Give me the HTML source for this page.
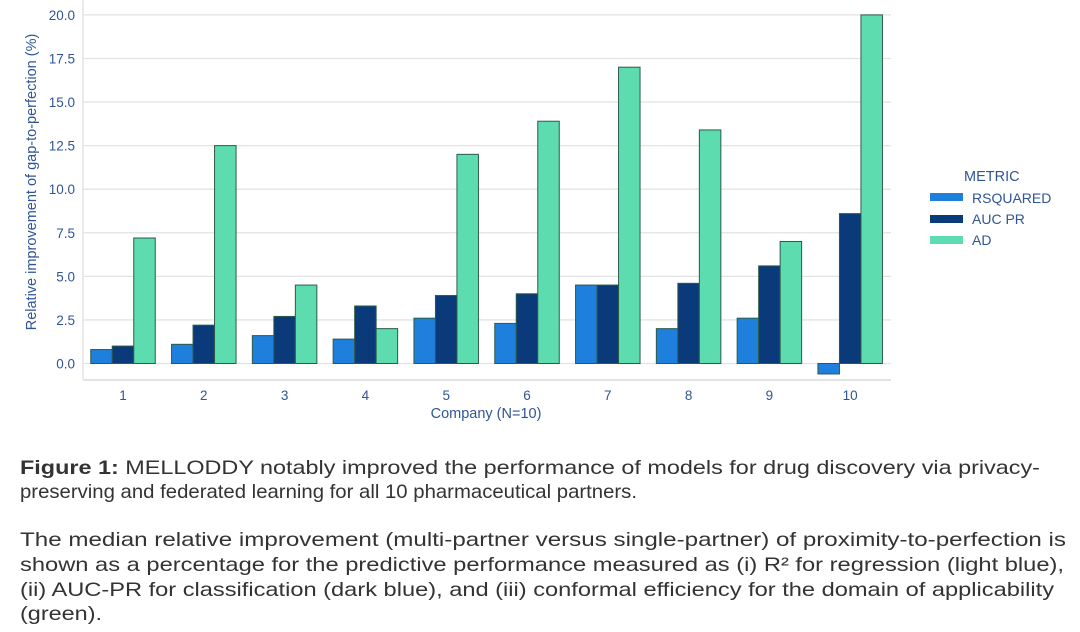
<!DOCTYPE html>
<html><head><meta charset="utf-8"><style>
body{margin:0;background:#fff;}
svg{display:block;font-family:"Liberation Sans",Arial,sans-serif;}
</style></head><body>
<svg id="c" width="1080" height="632">
<g id="grid"></g>
<g id="bars"></g>
<g id="axes"></g>
<text x="36" y="182" transform="rotate(-90 36 182)" text-anchor="middle" font-size="14.5" fill="#2f5597">Relative improvement of gap-to-perfection (%)</text>
<text x="486" y="418" text-anchor="middle" font-size="14.5" fill="#2f5597">Company (N=10)</text>
<g>
<text x="964" y="181" font-size="14.5" fill="#2f5597">METRIC</text>
<rect x="930" y="193" width="33" height="8" fill="#1f7fdc"/>
<text x="972" y="203" font-size="14" fill="#2f5597">RSQUARED</text>
<rect x="930" y="215" width="33" height="8" fill="#0a3a7a"/>
<text x="972" y="224" font-size="14" fill="#2f5597">AUC PR</text>
<rect x="930" y="236" width="33" height="8" fill="#5ddcb0"/>
<text x="972" y="245" font-size="14" fill="#2f5597">AD</text>
</g>
<g font-size="19.5" fill="#333">
<text x="20" y="474" textLength="1020" lengthAdjust="spacingAndGlyphs"><tspan font-weight="bold">Figure 1:</tspan> MELLODDY notably improved the performance of models for drug discovery via privacy-</text>
<text x="20" y="498" textLength="617" lengthAdjust="spacingAndGlyphs">preserving and federated learning for all 10 pharmaceutical partners.</text>
<text x="20" y="546" textLength="1046" lengthAdjust="spacingAndGlyphs">The median relative improvement (multi-partner versus single-partner) of proximity-to-perfection is</text>
<text x="20" y="571" textLength="1044" lengthAdjust="spacingAndGlyphs">shown as a percentage for the predictive performance measured as (i) R² for regression (light blue),</text>
<text x="20" y="596" textLength="1034" lengthAdjust="spacingAndGlyphs">(ii) AUC-PR for classification (dark blue), and (iii) conformal efficiency for the domain of applicability</text>
<text x="20" y="620" textLength="82" lengthAdjust="spacingAndGlyphs">(green).</text>
</g>
</svg>
<script>
const categories=["1","2","3","4","5","6","7","8","9","10"];
const rsquared=[0.8,1.1,1.6,1.4,2.6,2.3,4.5,2.0,2.6,-0.6];
const aucpr=[1.0,2.2,2.7,3.3,3.9,4.0,4.5,4.6,5.6,8.6];
const ad=[7.2,12.5,4.5,2.0,12.0,13.9,17.0,13.4,7.0,20.0];
const yTicks=[0,2.5,5,7.5,10,12.5,15,17.5,20];
const ns="http://www.w3.org/2000/svg";
const L=83,R=891,Y0=363.5,PX=17.43;
function y(v){return Y0-v*PX;}
function xc(i){return 123+i*80.8;}
function mk(tag,at,parent){const e=document.createElementNS(ns,tag);for(const k in at)e.setAttribute(k,at[k]);parent.appendChild(e);return e;}
const grid=document.getElementById('grid'),bars=document.getElementById('bars'),axes=document.getElementById('axes');
yTicks.forEach(t=>{
 const l=mk('line',{x1:L,x2:R,y1:y(t),y2:y(t),stroke:'#e3e3e3','stroke-width':1.3},grid);
 
 
 const tx=mk('text',{x:75,y:y(t)+5,'text-anchor':'end','font-size':13.5,fill:'#2f5597'},axes);
 tx.textContent=t.toFixed(1);
 
 
});
const ax=mk('line',{x1:L,x2:R,y1:380,y2:380,stroke:'#dcdcdc','stroke-width':1.5},axes);


const ay=mk('line',{x1:L,x2:L,y1:0,y2:380,stroke:'#e0e0e0','stroke-width':1.3},axes);


const series=[[rsquared,'#1f7fdc','rsquared'],[aucpr,'#0a3a7a','aucpr'],[ad,'#5ddcb0','ad']];
const bw=21.5;
categories.forEach((c,i)=>{
 series.forEach((s,j)=>{
  const v=s[0][i];const x=xc(i)-1.5*bw+j*bw;
  const top=Math.min(y(v),y(0)),h=Math.abs(y(v)-y(0));
  const r=mk('rect',{x:x,y:top,width:bw,height:h,fill:s[1],stroke:'#2d5a4a','stroke-width':1},bars);
  
  
 });
 const t=mk('text',{x:xc(i),y:400,'text-anchor':'middle','font-size':13.5,fill:'#2f5597'},axes);
 t.textContent=c;
 
 
});
</script>
</body></html>
